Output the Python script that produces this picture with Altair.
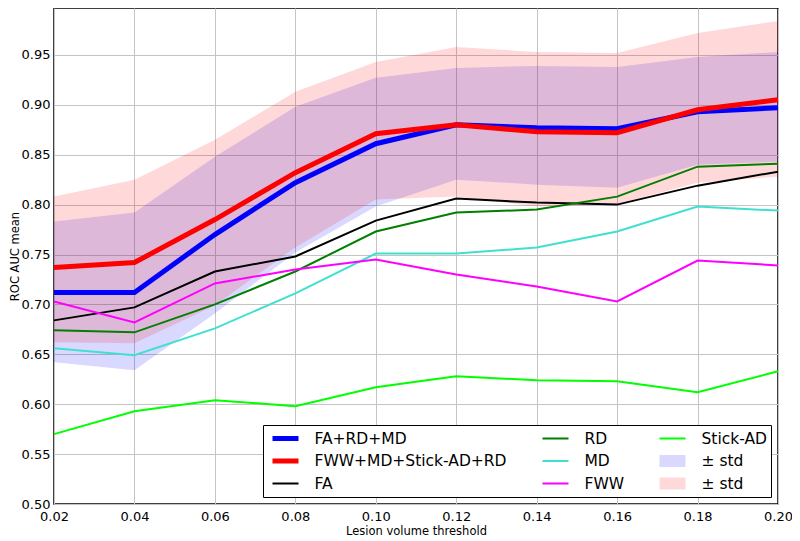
import altair as alt
import pandas as pd

x_vals = [0.02, 0.04, 0.06, 0.08, 0.10, 0.12, 0.14, 0.16, 0.18, 0.20]

fa_rd_md = [0.712, 0.712, 0.770, 0.822, 0.861, 0.880, 0.877, 0.876, 0.893, 0.897]
fww_md_stick_rd = [0.737, 0.742, 0.785, 0.832, 0.871, 0.880, 0.873, 0.872, 0.895, 0.905]
fa = [0.684, 0.697, 0.733, 0.748, 0.784, 0.806, 0.802, 0.800, 0.819, 0.833]
rd = [0.674, 0.672, 0.700, 0.733, 0.773, 0.792, 0.795, 0.808, 0.838, 0.841]
md = [0.656, 0.649, 0.676, 0.711, 0.751, 0.751, 0.757, 0.773, 0.798, 0.794]
fww = [0.703, 0.682, 0.721, 0.735, 0.745, 0.730, 0.718, 0.703, 0.744, 0.739]
stick_ad = [0.570, 0.593, 0.604, 0.598, 0.617, 0.628, 0.624, 0.623, 0.612, 0.633]

std_b_lo = [0.642, 0.634, 0.691, 0.752, 0.798, 0.825, 0.820, 0.817, 0.840, 0.843]
std_b_hi = [0.783, 0.792, 0.848, 0.898, 0.927, 0.937, 0.939, 0.938, 0.948, 0.953]
std_r_lo = [0.662, 0.661, 0.699, 0.757, 0.805, 0.808, 0.798, 0.800, 0.822, 0.828]
std_r_hi = [0.808, 0.825, 0.865, 0.913, 0.943, 0.958, 0.953, 0.952, 0.972, 0.984]

y_ticks = [0.50, 0.55, 0.60, 0.65, 0.70, 0.75, 0.80, 0.85, 0.90, 0.95]

# legend order (legend fills column by column, 3 columns)
domain = ["FA+RD+MD", "FWW+MD+Stick-AD+RD", "FA",
          "RD", "MD", "FWW",
          "Stick-AD", "std_b", "std_r"]
colors = ["#0000ff", "#ff0000", "#000000",
          "#007f00", "#40e0d0", "#ff00ff",
          "#00ff00", "#0000ff", "#ff0000"]
widths = [5, 5, 2,
          2, 2, 2,
          2, 12, 12]
opacities = [1, 1, 1,
             1, 1, 1,
             1, 0.15, 0.15]

series = {
    "FA+RD+MD": fa_rd_md,
    "FWW+MD+Stick-AD+RD": fww_md_stick_rd,
    "FA": fa,
    "RD": rd,
    "MD": md,
    "FWW": fww,
    "Stick-AD": stick_ad,
}
rows = []
for name, vals in series.items():
    for xv, yv in zip(x_vals, vals):
        rows.append({"x": xv, "y": yv, "series": name})
lines_df = pd.DataFrame(rows)

band_rows = []
for name, lo, hi in [("std_b", std_b_lo, std_b_hi), ("std_r", std_r_lo, std_r_hi)]:
    for xv, l, h in zip(x_vals, lo, hi):
        band_rows.append({"x": xv, "lo": l, "hi": h, "series": name})
bands_df = pd.DataFrame(band_rows)


def make_legend():
    return alt.Legend(
        title=None,
        orient="bottom-right",
        offset=7,
        columns=3,
        columnPadding=29,
        rowPadding=2.5,
        clipHeight=20,
        labelFont="DejaVu Sans",
        labelFontSize=15.5,
        labelColor="black",
        labelOffset=10,
        labelLimit=400,
        symbolType="stroke",
        symbolSize=676,
        padding=3.5,
        fillColor="white",
        strokeColor="black",
        labelExpr="datum.value === 'std_b' || datum.value === 'std_r' ? '± std' : datum.value",
    )


color = alt.Color("series:N", scale=alt.Scale(domain=domain, range=colors), legend=make_legend())
swidth = alt.StrokeWidth("series:N", scale=alt.Scale(type="ordinal", domain=domain, range=widths), legend=make_legend())
opac = alt.Opacity("series:N", scale=alt.Scale(type="ordinal", domain=domain, range=opacities), legend=make_legend())

x_enc = alt.X(
    "x:Q",
    scale=alt.Scale(domain=[0.02, 0.20], nice=False, zero=False),
    axis=alt.Axis(values=x_vals, format=".2f", title="Lesion volume threshold",
                  labelFlush=False, labelPadding=6),
)
y_axis = alt.Axis(values=y_ticks, format=".2f", title="ROC AUC mean", labelFlush=False)
y_scale = alt.Scale(domain=[0.50, 0.997], nice=False, zero=False)

bands = alt.Chart(bands_df).mark_area().encode(
    x=x_enc,
    y=alt.Y("lo:Q", scale=y_scale, axis=y_axis),
    y2="hi:Q",
    color=color,
    opacity=opac,
)

thin = alt.Chart(lines_df).transform_filter(
    "datum.series !== 'FA+RD+MD' && datum.series !== 'FWW+MD+Stick-AD+RD'"
).mark_line().encode(
    x=x_enc,
    y=alt.Y("y:Q", scale=y_scale, axis=y_axis),
    color=color,
    strokeWidth=swidth,
    opacity=opac,
)

thick = alt.Chart(lines_df).transform_filter(
    "datum.series === 'FA+RD+MD' || datum.series === 'FWW+MD+Stick-AD+RD'"
).mark_line().encode(
    x=x_enc,
    y=alt.Y("y:Q", scale=y_scale, axis=y_axis),
    color=color,
    strokeWidth=swidth,
    opacity=opac,
)

chart = alt.layer(bands, thin, thick).properties(
    width=724,
    height=496,
    autosize=alt.AutoSizeParams(type="none"),
    padding={"left": 46, "top": 0, "right": 14, "bottom": 33},
).configure_view(
    stroke="black", strokeWidth=1.5
).configure_axis(
    labelFont="DejaVu Sans",
    labelFontSize=13,
    labelColor="black",
    titleFont="DejaVu Sans",
    titleFontSize=11.5,
    titleFontWeight="normal",
    titleColor="black",
    grid=True,
    gridColor="#c4c4c4",
    gridWidth=1,
    ticks=False,
    domain=False,
    labelPadding=4,
).configure_axisX(
    titlePadding=2,
).configure_axisY(
    titlePadding=1,
)

chart.save("out.html", embed_options={"renderer": "svg", "actions": False})
